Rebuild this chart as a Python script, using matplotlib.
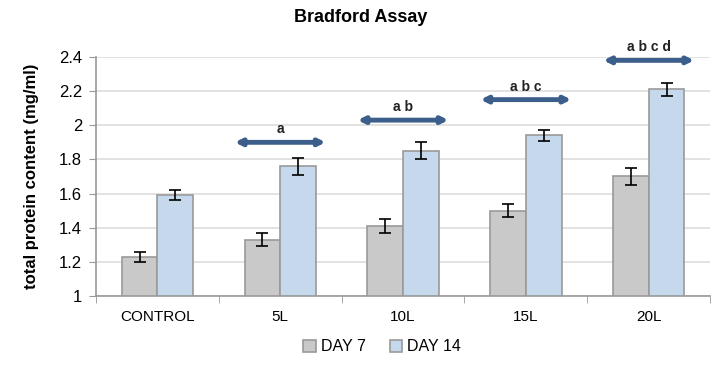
import numpy as np
import matplotlib.pyplot as plt

plt.rcParams['font.family'] = ['Liberation Sans', 'DejaVu Sans']

groups = ["CONTROL", "5L", "10L", "15L", "20L"]
day7 = [1.23, 1.33, 1.41, 1.50, 1.70]
day7_err = [0.03, 0.04, 0.04, 0.04, 0.05]
day14 = [1.59, 1.76, 1.85, 1.94, 2.21]
day14_err = [0.03, 0.05, 0.05, 0.03, 0.04]

# significance arrows: group index, height, letters
sig_idx = [1, 2, 3, 4]
sig_y = [1.90, 2.03, 2.15, 2.38]
sig_txt = ["a", "a b", "a b c", "a b c d"]

fig = plt.figure(figsize=(7.21, 3.65), dpi=100)
ax = fig.add_axes([0.133, 0.189, 0.852, 0.655])

x = np.arange(len(groups))
w = 0.29
ax.bar(x - w / 2, day7, w, color="#c9c9c9", edgecolor="#9a9a9a", linewidth=1.2,
       label="DAY 7", zorder=2)
ax.bar(x + w / 2, day14, w, color="#c6d8eb", edgecolor="#9a9a9a", linewidth=1.2,
       label="DAY 14", zorder=2)
ax.errorbar(x - w / 2, day7, yerr=day7_err, fmt="none", ecolor="black",
            elinewidth=1.2, capsize=4, capthick=1.2, zorder=3)
ax.errorbar(x + w / 2, day14, yerr=day14_err, fmt="none", ecolor="black",
            elinewidth=1.2, capsize=4, capthick=1.2, zorder=3)

for i, yy, t in zip(sig_idx, sig_y, sig_txt):
    ax.annotate("", xy=(i - 0.37, yy), xytext=(i + 0.37, yy),
                arrowprops=dict(arrowstyle="<|-|>", color="#3b5f8a", lw=3.5,
                                mutation_scale=9, shrinkA=0, shrinkB=0), zorder=4)
    ax.text(i, yy + 0.035, t, ha="center", va="bottom", fontsize=10,
            fontweight="bold", color="#222222")

ax.set_ylim(1, 2.4)
ax.set_xlim(-0.5, len(groups) - 0.5)
ax.set_yticks(np.arange(1, 2.41, 0.2))
ax.set_yticklabels(["1", "1.2", "1.4", "1.6", "1.8", "2", "2.2", "2.4"])
ax.set_xticks(x)
ax.set_xticklabels(groups)
ax.set_xticks(np.arange(-0.5, len(groups), 1), minor=True)
ax.tick_params(axis="x", which="major", length=0, pad=10, labelsize=11)
ax.tick_params(axis="x", which="minor", length=5, color="#999999")
ax.tick_params(axis="y", length=5, color="#999999", labelsize=12, pad=5)
ax.grid(axis="y", color="#dddddd", lw=1.2, zorder=0)
for s in ["top", "right"]:
    ax.spines[s].set_visible(False)
ax.spines["left"].set_color("#999999")
ax.spines["bottom"].set_color("#999999")
ax.spines["left"].set_linewidth(1.2)
ax.spines["bottom"].set_linewidth(1.2)

ax.set_ylabel("total protein content (mg/ml)", fontsize=12, fontweight="bold",
              labelpad=14)
fig.suptitle("Bradford Assay", x=0.5, y=0.975, fontsize=13, fontweight="bold")
fig.legend(loc="lower center", bbox_to_anchor=(0.53, -0.01), ncol=2, frameon=False,
           fontsize=11.5, handlelength=0.8, handleheight=0.8, handletextpad=0.3,
           columnspacing=1.5)

fig.savefig("out.png", dpi=100)
